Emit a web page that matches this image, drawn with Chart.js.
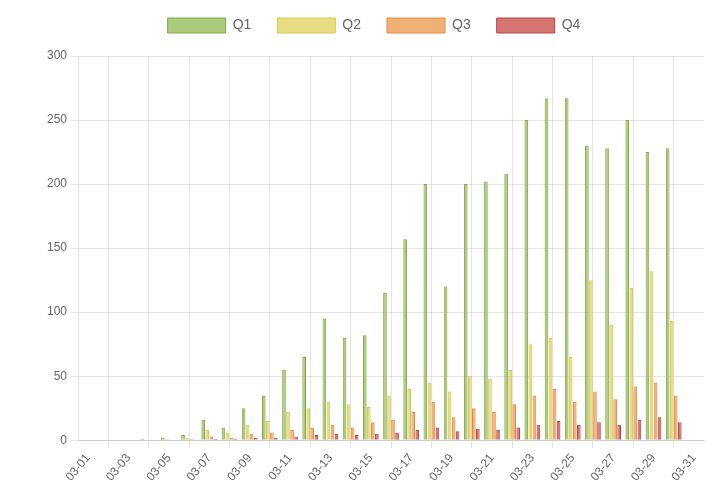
<!DOCTYPE html>
<html>
<head>
<meta charset="utf-8">
<script src="https://cdn.jsdelivr.net/npm/chart.js@4/dist/chart.umd.min.js"></script>
<style>
  html, body { margin: 0; padding: 0; background: #fff; }
  #wrap { width: 712px; height: 487px; }
</style>
</head>
<body>
<div id="wrap"><canvas id="chart"></canvas></div>
<script>
// Categories (31 days)
const labels = [
    '03-01', '03-02', '03-03', '03-04', '03-05', '03-06', '03-07', '03-08',
    '03-09', '03-10', '03-11', '03-12', '03-13', '03-14', '03-15', '03-16',
    '03-17', '03-18', '03-19', '03-20', '03-21', '03-22', '03-23', '03-24',
    '03-25', '03-26', '03-27', '03-28', '03-29', '03-30', '03-31'
];

// Series values
const q1 = [0, 0, 0, 1, 2, 4, 16, 10, 25, 35, 55, 65, 95, 80, 82, 115,
    157, 200, 120, 200, 202, 208, 250, 267, 267, 230, 228, 250, 225, 228, 0];
const q2 = [0, 0, 0, 0, 1, 2, 8, 6, 12, 15, 22, 25, 30, 28, 26, 35,
    40, 45, 38, 50, 48, 55, 75, 80, 65, 125, 90, 119, 132, 93, 0];
const q3 = [0, 0, 0, 0, 0, 1, 3, 2, 5, 6, 8, 10, 12, 10, 14, 16,
    22, 30, 18, 25, 22, 28, 35, 40, 30, 38, 32, 42, 45, 35, 0];
const q4 = [0, 0, 0, 0, 0, 0, 1, 1, 2, 2, 3, 4, 5, 4, 5, 6,
    8, 10, 7, 9, 8, 10, 12, 15, 12, 14, 12, 16, 18, 14, 0];

Chart.defaults.color = '#666';
Chart.defaults.font.family = "'Liberation Sans', Arial, sans-serif";
Chart.defaults.font.size = 12;

// Extra space under the legend
const legendMargin = {
    id: 'legendMargin',
    beforeInit(chart) {
        const fitValue = chart.legend.fit;
        chart.legend.fit = function fit() {
            fitValue.bind(chart.legend)();
            this.height += 13;
        };
    }
};

const ctx = document.getElementById('chart').getContext('2d');
const chart = new Chart(ctx, {
    type: 'bar',
    data: {
        labels: labels,
        datasets: [
            { label: 'Q1', data: q1, backgroundColor: 'rgba(150, 190, 90, 0.8)', borderColor: 'rgba(130, 170, 75, 1)', borderWidth: 1 },
            { label: 'Q2', data: q2, backgroundColor: 'rgba(228, 212, 100, 0.8)', borderColor: 'rgba(215, 198, 85, 1)', borderWidth: 1 },
            { label: 'Q3', data: q3, backgroundColor: 'rgba(236, 156, 84, 0.8)', borderColor: 'rgba(225, 140, 70, 1)', borderWidth: 1 },
            { label: 'Q4', data: q4, backgroundColor: 'rgba(200, 82, 78, 0.8)', borderColor: 'rgba(185, 70, 66, 1)', borderWidth: 1 }
        ]
    },
    options: {
        responsive: true,
        maintainAspectRatio: false,
        animation: false,
        layout: {
            padding: { top: -8, right: 8, left: 44 }
        },
        plugins: {
            legend: {
                position: 'top',
                labels: {
                    boxWidth: 58,
                    boxHeight: 15,
                    padding: 26,
                    font: { size: 14 }
                }
            },
            tooltip: { enabled: false }
        },
        scales: {
            x: {
                ticks: { maxRotation: 50, minRotation: 50 }
            },
            y: {
                beginAtZero: true,
                max: 300,
                ticks: { stepSize: 50 }
            }
        }
    },
    plugins: [legendMargin]
});
</script>
</body>
</html>
